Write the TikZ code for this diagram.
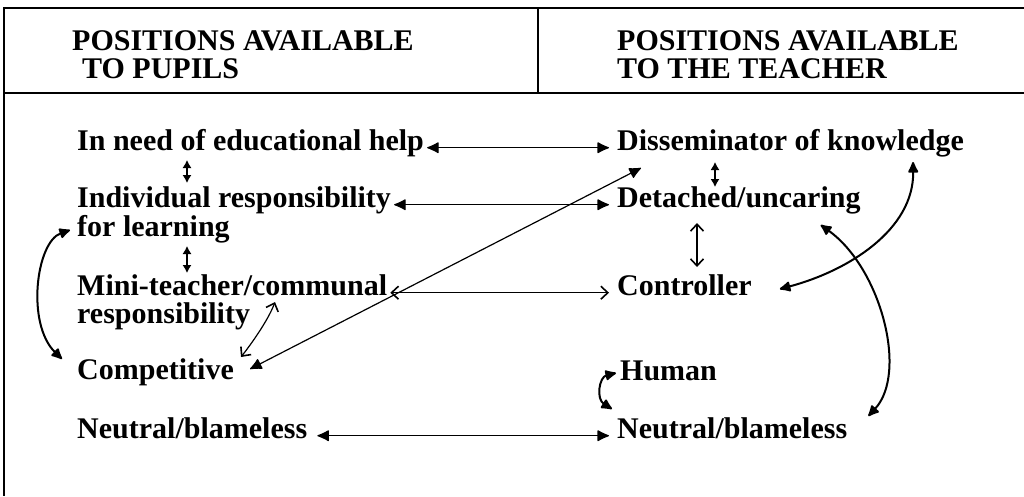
\documentclass[tikz,border=0pt]{standalone}
\usepackage{fontspec}
\setmainfont{Liberation Serif}
\usetikzlibrary{arrows.meta,calc}
\tikzset{
  Blob/.tip={Latex[length=13pt,width=12pt,round]},
  Chev/.tip={Straight Barb[length=7pt,width=13pt,line width=1.6pt]},
  Smalltip/.tip={Latex[length=8pt,width=9pt]},
}
\begin{document}
\begin{tikzpicture}[x=1pt,y=-1pt,
  lbl/.style={anchor=base west,inner sep=0pt,font=\fontsize{30}{29}\selectfont\bfseries},
  frameline/.style={line width=1.4pt},
  thinline/.style={line width=1.2pt},
  thickline/.style={line width=2pt}]
\useasboundingbox (0,0) rectangle (1024,496);
\fill[white] (0,0) rectangle (1024,496);
% frame
\draw[frameline] (1024,8) -- (4,8) -- (4,496);
\draw[frameline] (4,93) -- (1024,93);
\draw[frameline] (538,8) -- (538,93);
% headers
\node[lbl] (hpa) at (72,50) {POSITIONS AVAILABLE};
\node[lbl] (hpb) at (82,78) {TO PUPILS};
\node[lbl] (hta) at (617,50) {POSITIONS AVAILABLE};
\node[lbl] (htb) at (617,78) {TO THE TEACHER};
% left column
\node[lbl] (help) at (77,150) {In need of educational help};
\node[lbl] (indiv) at (77,207) {Individual responsibility};
\node[lbl] (forl) at (77,236) {for learning};
\node[lbl] (mini) at (77,295) {Mini-teacher/communal};
\node[lbl] (resp) at (77,323) {responsibility};
\node[lbl] (comp) at (77,379) {Competitive};
\node[lbl] (neuL) at (77,438) {Neutral/blameless};
% right column
\node[lbl] (diss) at (617,150) {Disseminator of knowledge};
\node[lbl] (detach) at (617,207) {Detached/uncaring};
\node[lbl] (ctrl) at (617,295) {Controller};
\node[lbl] (human) at (620,380) {Human};
\node[lbl] (neuR) at (617,438) {Neutral/blameless};
% horizontal connectors
\draw[thinline,{Blob}-{Blob},shorten <=3pt,shorten >=8pt] (help.mid east) -- (diss.mid west);
\draw[thinline,{Blob}-{Blob},shorten <=3pt,shorten >=8pt] (indiv.mid east) -- (detach.mid west);
\draw[thinline,{Chev}-{Chev},shorten <=3pt,shorten >=8pt] (mini.mid east) -- (ctrl.mid west);
\draw[thinline,{Blob}-{Blob},shorten <=10pt,shorten >=8pt] (neuL.mid east) -- (neuR.mid west);
% diagonal
\draw[thinline,{Blob}-{Blob}] ($(comp.base east)+(16,-10)$) -- ($(diss.base west)+(24,18)$);
% mini <-> competitive curve
\draw[thinline,{Chev}-{Chev}] ($(mini.base west)+(198,7)$) .. controls +(-6,16) and +(14,-18) .. ($(comp.base east)+(7,-22)$);
% small vertical arrows
\draw[thinline,{Smalltip}-{Smalltip}] ($(help.base west)+(110,10)$) -- ($(indiv.base west)+(110,-24)$);
\draw[thinline,{Smalltip}-{Smalltip}] ($(forl.base west)+(110,10)$) -- ($(mini.base west)+(110,-22)$);
\draw[thinline,{Smalltip}-{Smalltip}] ($(diss.base west)+(98,12)$) -- ($(detach.base west)+(98,-20)$);
\draw[thinline,{Chev}-{Chev}] ($(detach.base west)+(80,16)$) -- ($(ctrl.base west)+(80,-28)$);
% curved connectors right
\draw[thickline,{Blob}-{Blob}] ($(ctrl.base east)+(28,-6)$) .. controls +(68,-18) and +(1,68) .. ($(diss.base east)+(-51,12)$);
\draw[thickline,{Blob}-{Blob}] ($(detach.base east)+(-40,18)$) .. controls +(60,43) and +(40,-43) .. ($(neuR.base east)+(21,-22)$);
\draw[thickline,{Blob}-{Blob}] ($(human.base west)+(-4,-7)$) .. controls +(-17,4) and +(-16,-10) .. ($(neuR.base west)+(-5,-29)$);
% curved connector left
\draw[thickline,{Blob}-{Blob}] ($(forl.base west)+(-7,-6)$) .. controls +(-34,12) and +(-36,-35) .. ($(comp.base west)+(-15,-20)$);
\end{tikzpicture}
\end{document}
